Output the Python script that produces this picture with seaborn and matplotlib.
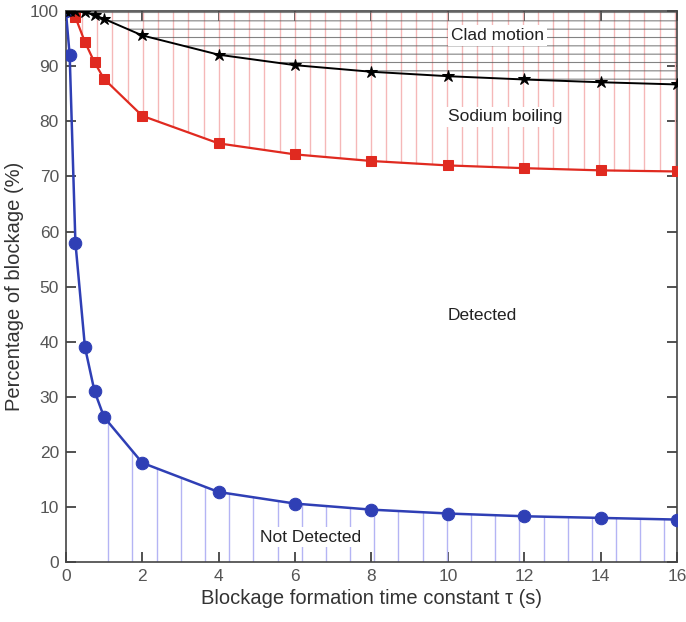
import matplotlib
matplotlib.use("Agg")
import matplotlib.pyplot as plt
import seaborn as sns
import numpy as np
import pandas as pd

tau = [0, 0.1, 0.25, 0.5, 0.75, 1, 2, 4, 6, 8, 10, 12, 14, 16]
not_detected = [100, 92, 58, 39, 31, 26.3, 18, 12.7, 10.6, 9.5, 8.8, 8.3, 8.0, 7.7]
sodium_boiling = [100, 100, 98.9, 94.4, 90.7, 87.7, 81, 76, 74, 72.8, 72, 71.5, 71.1, 70.9]
clad_motion = [100, 100, 100, 99.8, 99.3, 98.6, 95.6, 92.1, 90.2, 89, 88.2, 87.6, 87.1, 86.7]

xticks = [0, 2, 4, 6, 8, 10, 12, 14, 16]
yticks = [0, 10, 20, 30, 40, 50, 60, 70, 80, 90, 100]

sns.set_style("ticks")
plt.rcParams['font.family'] = ['Liberation Sans', 'DejaVu Sans']
plt.rcParams['hatch.linewidth'] = 0.8

df = pd.DataFrame({"tau": tau, "nd": not_detected, "sb": sodium_boiling, "cm": clad_motion})

fig = plt.figure(figsize=(6.86, 6.22), dpi=100)
ax = fig.add_axes([0.096, 0.0965, 0.891, 0.8855])

# hatching of the regions (derived from the series)
red_hx = np.arange(0.42, 16, 0.398)
ax.vlines(red_hx, np.interp(red_hx, df["tau"], df["sb"]), 100,
          colors='#f5b8b8', linewidth=1.0, zorder=1)
blue_hx = np.arange(1.11, 16, 0.633)
ax.vlines(blue_hx, 0, np.interp(blue_hx, df["tau"], df["nd"]),
          colors='#b4b4f4', linewidth=1.0, zorder=1)
ax.fill_between(df["tau"], df["cm"], 100, facecolor='none', edgecolor=(0.35, 0.35, 0.35, 0.75),
                hatch='--', linewidth=0, zorder=1.5)

sns.lineplot(data=df, x="tau", y="cm", ax=ax, color='black', marker='*', markersize=9,
             markeredgecolor='black', linewidth=1.4, zorder=4)
sns.lineplot(data=df, x="tau", y="sb", ax=ax, color='#e02a20', marker='s', markersize=7,
             markeredgecolor='#e02a20', linewidth=1.6, zorder=3)
sns.lineplot(data=df, x="tau", y="nd", ax=ax, color='#2f3fb5', marker='o', markersize=9,
             markeredgecolor='#2f3fb5', linewidth=1.8, zorder=3)

ax.set_xlim(0, 16)
ax.set_ylim(0, 100)
ax.set_xticks(xticks)
ax.set_yticks(yticks)
ax.tick_params(direction='in', length=7, width=1.2, top=True, right=True,
               labelsize=12.5, labelcolor='#555555', color='#333333', pad=5)
for s in ax.spines.values():
    s.set_color('#444444')
    s.set_linewidth(1.2)

ax.set_xlabel("Blockage formation time constant \u03c4 (s)", fontsize=14.5, color='#333333', labelpad=4)
ax.set_ylabel("Percentage of blockage (%)", fontsize=14.5, color='#333333', labelpad=4)

bbox = dict(facecolor='white', edgecolor='none', pad=2)
ax.text(11.3, 95.6, "Clad motion", ha='center', va='center', fontsize=12.5, color='#222222', bbox=bbox, zorder=5)
ax.text(11.5, 80.8, "Sodium boiling", ha='center', va='center', fontsize=12.5, color='#222222', bbox=bbox, zorder=5)
ax.text(10.9, 44.8, "Detected", ha='center', va='center', fontsize=12.5, color='#222222', zorder=5)
ax.text(6.4, 4.5, "Not Detected", ha='center', va='center', fontsize=12.5, color='#222222', bbox=bbox, zorder=5)

fig.savefig("out.png", dpi=100)
